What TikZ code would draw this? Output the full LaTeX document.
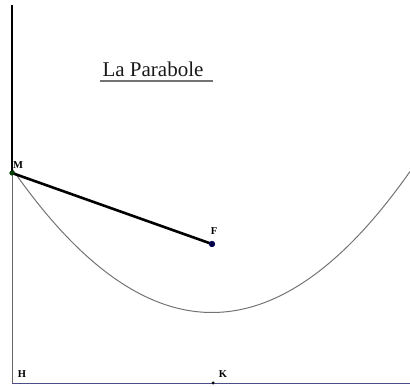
\documentclass[tikz,border=0pt]{standalone}
\usepackage{fontspec}
\setmainfont{Liberation Serif}
\begin{document}
\begin{tikzpicture}[x=1pt,y=-1pt,
  thinline/.style={draw=black!60, line width=0.9pt},
  thickline/.style={draw=black, line width=2.6pt},
  curve/.style={draw=black!55, line width=1pt},
  lbl/.style={font=\fontsize{10.5}{10.5}\selectfont\bfseries, inner sep=0pt},
  dot/.style={circle, inner sep=0pt, minimum size=#1}]
\useasboundingbox (0,0) rectangle (410,387);
\coordinate (top) at (12,5);
\node[dot=5pt, fill=black!70!green!80!black] (M) at (12,173) {};
\node[dot=6pt, fill=blue!30!black] (F) at (212,244) {};
\coordinate (H) at (12,383);
\node[dot=3pt, fill=black] (K) at (213,383) {};
\coordinate (E) at (410,383);
% parabola
\draw[curve, domain=12:410, samples=80, smooth] plot (\x,{312.5-((\x-212)/278)*(\x-212)});
% lines
\draw[thinline] (M.center) -- (H);
\draw[thinline, draw=black!65!blue!70] (H) -- (E);
\draw[thickline] (top) -- (M.center);
\draw[thickline] (M.center) -- (F.center);
\node[dot=5pt, fill=black!70!green!80!black] at (M) {};
\node[dot=6pt, fill=blue!30!black] at (F) {};
\node[dot=3pt, fill=black] at (K) {};
% labels
\node[lbl] (lM) at (18,165) {M};
\node[lbl] (lF) at (214,231) {F};
\node[lbl] (lH) at (22,374) {H};
\node[lbl] (lK) at (223,374) {K};
\node[font=\fontsize{21}{21}\selectfont, inner sep=0pt, anchor=base, text=black!90] (title) at (153,77) {La Parabole};
\draw[draw=black!55, line width=1.4pt] (100,81) -- (213,81);
\end{tikzpicture}
\end{document}
